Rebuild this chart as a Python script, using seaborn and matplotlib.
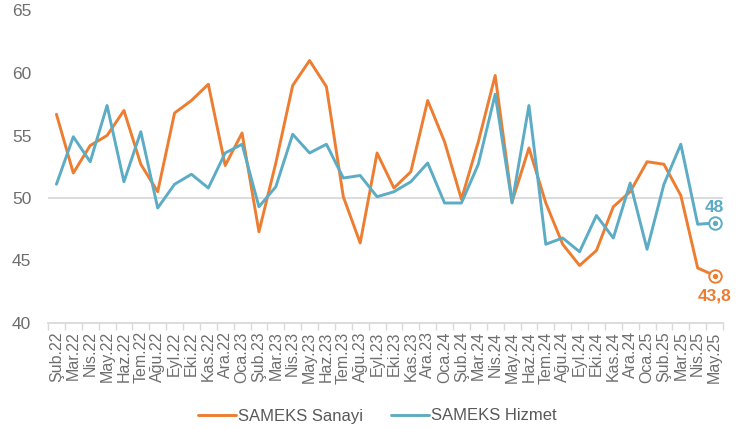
import matplotlib
matplotlib.use("Agg")
import matplotlib.pyplot as plt
import seaborn as sns
import pandas as pd
import numpy as np

months = ["Şub.22", "Mar.22", "Nis.22", "May.22", "Haz.22", "Tem.22", "Ağu.22", "Eyl.22",
          "Eki.22", "Kas.22", "Ara.22", "Oca.23", "Şub.23", "Mar.23", "Nis.23", "May.23",
          "Haz.23", "Tem.23", "Ağu.23", "Eyl.23", "Eki.23", "Kas.23", "Ara.23", "Oca.24",
          "Şub.24", "Mar.24", "Nis.24", "May.24", "Haz.24", "Tem.24", "Ağu.24", "Eyl.24",
          "Eki.24", "Kas.24", "Ara.24", "Oca.25", "Şub.25", "Mar.25", "Nis.25", "May.25"]

sanayi = [56.7, 52.0, 54.2, 55.0, 57.0, 52.7, 50.5, 56.8, 57.8, 59.1, 52.6, 55.2,
          47.3, 52.8, 59.0, 61.0, 58.9, 50.1, 46.4, 53.6, 50.8, 52.1, 57.8, 54.5,
          49.9, 54.5, 59.8, 49.7, 54.0, 49.6, 46.3, 44.6, 45.8, 49.3, 50.5, 52.9,
          52.7, 50.2, 44.4, 43.8]

hizmet = [51.1, 54.9, 52.9, 57.4, 51.3, 55.3, 49.2, 51.1, 51.9, 50.8, 53.6, 54.3,
          49.3, 50.9, 55.1, 53.6, 54.3, 51.6, 51.8, 50.1, 50.5, 51.3, 52.8, 49.6,
          49.6, 52.7, 58.3, 49.6, 57.4, 46.3, 46.8, 45.7, 48.6, 46.8, 51.2, 45.9,
          51.1, 54.3, 47.9, 48.0]

series_names = ["SAMEKS Sanayi", "SAMEKS Hizmet"]
colors = ["#ED7D31", "#5BACC4"]
end_labels = ["43,8", "48"]

sns.set_theme(style="white")
plt.rcParams["font.family"] = ["Liberation Sans", "DejaVu Sans"]

df = pd.DataFrame({
    "idx": list(range(len(months))) * 2,
    "value": sanayi + hizmet,
    "series": [series_names[0]] * len(months) + [series_names[1]] * len(months),
})

fig = plt.figure(figsize=(7.4, 4.28), dpi=100)
ax = fig.add_axes([48 / 740, 1 - 323 / 428, (723 - 48) / 740, (323 - 10.5) / 428])

ax.axhline(50, color="#D9D9D9", lw=1.3, zorder=0)

sns.lineplot(data=df, x="idx", y="value", hue="series", palette=colors,
             linewidth=2.1, ax=ax, legend=True)

# end markers
n = len(months) - 1
for vals, c, lab, off in zip([sanayi, hizmet], colors, end_labels, [-14.5, 11]):
    ax.plot([n], [vals[-1]], marker="o", ms=9, mfc="white", mec=c, mew=1.4, zorder=5)
    ax.plot([n], [vals[-1]], marker="o", ms=2.8, color=c, zorder=6)
    ax.annotate(lab, (n, vals[-1]), xytext=(0, off), textcoords="offset points",
                ha="center", va="center", color=c, fontsize=12.5, fontweight="bold")

ax.set_xlim(-0.5, n + 0.5)
ax.set_ylim(40, 65)
ax.set_yticks([40, 45, 50, 55, 60, 65])
ax.set_xticks(range(len(months)))
ax.set_xticklabels(months, rotation=90, fontsize=11.5, color="#6E6E6E")
ax.set_xticks(np.arange(-0.5, n + 1, 1), minor=True)
ax.tick_params(axis="x", which="major", length=0, pad=6)
ax.tick_params(axis="x", which="minor", length=5, color="#D9D9D9", width=1, bottom=True)
ax.tick_params(axis="y", length=0, labelsize=12.5, labelcolor="#6E6E6E", pad=12)
ax.set_xlabel("")
ax.set_ylabel("")
for s in ["top", "right", "left"]:
    ax.spines[s].set_visible(False)
ax.spines["bottom"].set_color("#D9D9D9")
ax.spines["bottom"].set_linewidth(1.3)

handles, labels = ax.get_legend_handles_labels()
ax.legend(handles, labels, loc="center", bbox_to_anchor=(377 / 740, 1 - 416 / 428),
          bbox_transform=fig.transFigure, ncol=2, frameon=False, fontsize=12,
          handlelength=2.3, handletextpad=0.1, columnspacing=1.7,
          labelcolor="#595959")

fig.savefig("out.png", dpi=100)
